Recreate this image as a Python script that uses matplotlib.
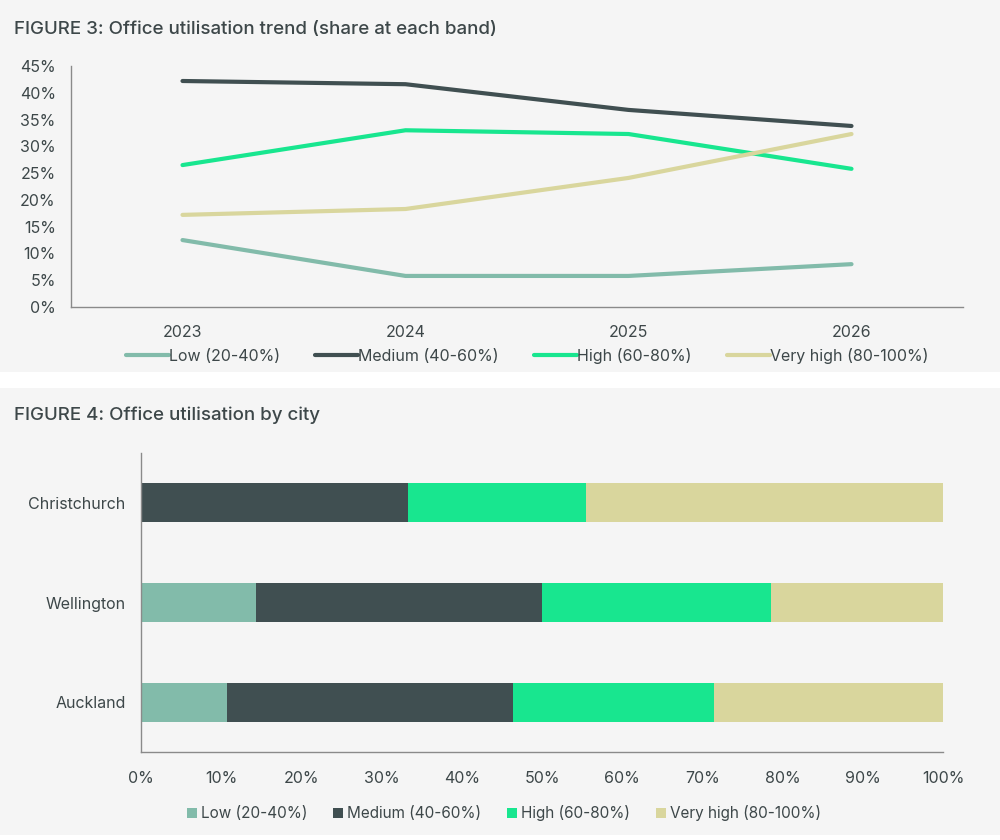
import matplotlib
matplotlib.use("Agg")
import matplotlib.pyplot as plt
from matplotlib.patches import Rectangle
from matplotlib.ticker import FuncFormatter

plt.rcParams['font.family'] = ['Inter', 'DejaVu Sans']

# ---- Data ----
years = ["2023", "2024", "2025", "2026"]
bands = ["Low (20-40%)", "Medium (40-60%)", "High (60-80%)", "Very high (80-100%)"]
trend_low = [12.5, 5.8, 5.8, 8.0]
trend_medium = [42.2, 41.6, 36.8, 33.8]
trend_high = [26.5, 33.0, 32.3, 25.8]
trend_very_high = [17.2, 18.3, 24.1, 32.3]

cities = ["Auckland", "Wellington", "Christchurch"]
city_low = [10.7, 14.3, 0.0]
city_medium = [35.7, 35.7, 33.3]
city_high = [25.0, 28.6, 22.2]
city_very_high = [28.6, 21.4, 44.5]

colors = ["#82bbaa", "#404f51", "#18e68f", "#d9d69d"]
text_col = "#3d4749"
spine_col = "#8a8a8a"
bg = "#f5f5f5"

fig = plt.figure(figsize=(10, 8.4), dpi=100, facecolor="white")
H = 840.0
fig.patches.append(Rectangle((0, 1 - 372 / H), 1, 372 / H, transform=fig.transFigure,
                             facecolor=bg, edgecolor="none", zorder=-10))
fig.patches.append(Rectangle((0, 5 / H), 1, (835 - 388) / H, transform=fig.transFigure,
                             facecolor=bg, edgecolor="none", zorder=-10))

# ---- Figure 3 ----
ax1 = fig.add_axes([0.071, 1 - 307 / H, 0.892, (307 - 66) / H])
ax1.set_facecolor("none")
series = [trend_low, trend_medium, trend_high, trend_very_high]
xs = range(len(years))
handles = []
for vals, c, lab in zip(series, colors, bands):
    h, = ax1.plot(xs, [v / 100 for v in vals], color=c, lw=3, solid_capstyle="round",
                  label=lab)
    handles.append(h)
ax1.set_xlim(-0.5, 3.5)
ax1.set_ylim(0, 0.45)
ax1.set_xticks(list(xs))
ax1.set_xticklabels(years)
ax1.set_yticks([i / 100 for i in range(0, 46, 5)])
ax1.yaxis.set_major_formatter(FuncFormatter(lambda v, p: f"{v*100:.0f}%"))
for s in ["top", "right"]:
    ax1.spines[s].set_visible(False)
for s in ["left", "bottom"]:
    ax1.spines[s].set_color(spine_col)
    ax1.spines[s].set_linewidth(1)
ax1.tick_params(axis="both", length=0, labelsize=11.5, labelcolor=text_col)
ax1.tick_params(axis="y", pad=11)
ax1.tick_params(axis="x", pad=13)

fig.text(0.014, 1 - 29 / H, "FIGURE 3: Office utilisation trend (share at each band)",
         fontsize=13.5, fontweight="medium", color=text_col, va="center", ha="left")

fig.legend(handles=handles, labels=bands, loc="center", bbox_to_anchor=(0.527, 1 - 356 / H),
           ncol=4, frameon=False, fontsize=11.5, handlelength=2.7, handletextpad=0.0,
           columnspacing=2.2, labelcolor=text_col)

# ---- Figure 4 ----
ax2 = fig.add_axes([0.141, 1 - 752 / H, 0.802, (752 - 453) / H])
ax2.set_facecolor("none")
left = [0.0] * len(cities)
bars = []
for vals, c, lab in zip([city_low, city_medium, city_high, city_very_high], colors, bands):
    b = ax2.barh(range(len(cities)), vals, left=left, height=0.39, color=c, label=lab)
    bars.append(b)
    left = [l + v for l, v in zip(left, vals)]
ax2.set_xlim(0, 100)
ax2.set_ylim(-0.5, 2.5)
ax2.set_yticks(range(len(cities)))
ax2.set_yticklabels(cities)
ax2.set_xticks(range(0, 101, 10))
ax2.xaxis.set_major_formatter(FuncFormatter(lambda v, p: f"{v:.0f}%"))
for s in ["top", "right"]:
    ax2.spines[s].set_visible(False)
for s in ["left", "bottom"]:
    ax2.spines[s].set_color(spine_col)
    ax2.spines[s].set_linewidth(1)
ax2.tick_params(axis="both", length=0, labelsize=11.5, labelcolor=text_col)
ax2.tick_params(axis="y", pad=11)
ax2.tick_params(axis="x", pad=14)

fig.text(0.014, 1 - 415 / H, "FIGURE 4: Office utilisation by city",
         fontsize=13.5, fontweight="medium", color=text_col, va="center", ha="left")

fig.legend(handles=bars, labels=bands, loc="center", bbox_to_anchor=(0.504, 1 - 813 / H),
           ncol=4, frameon=False, fontsize=11, handlelength=0.65, handleheight=0.65,
           handletextpad=0.25, columnspacing=1.7, labelcolor=text_col)

fig.savefig("out.png", dpi=100, facecolor="white")
